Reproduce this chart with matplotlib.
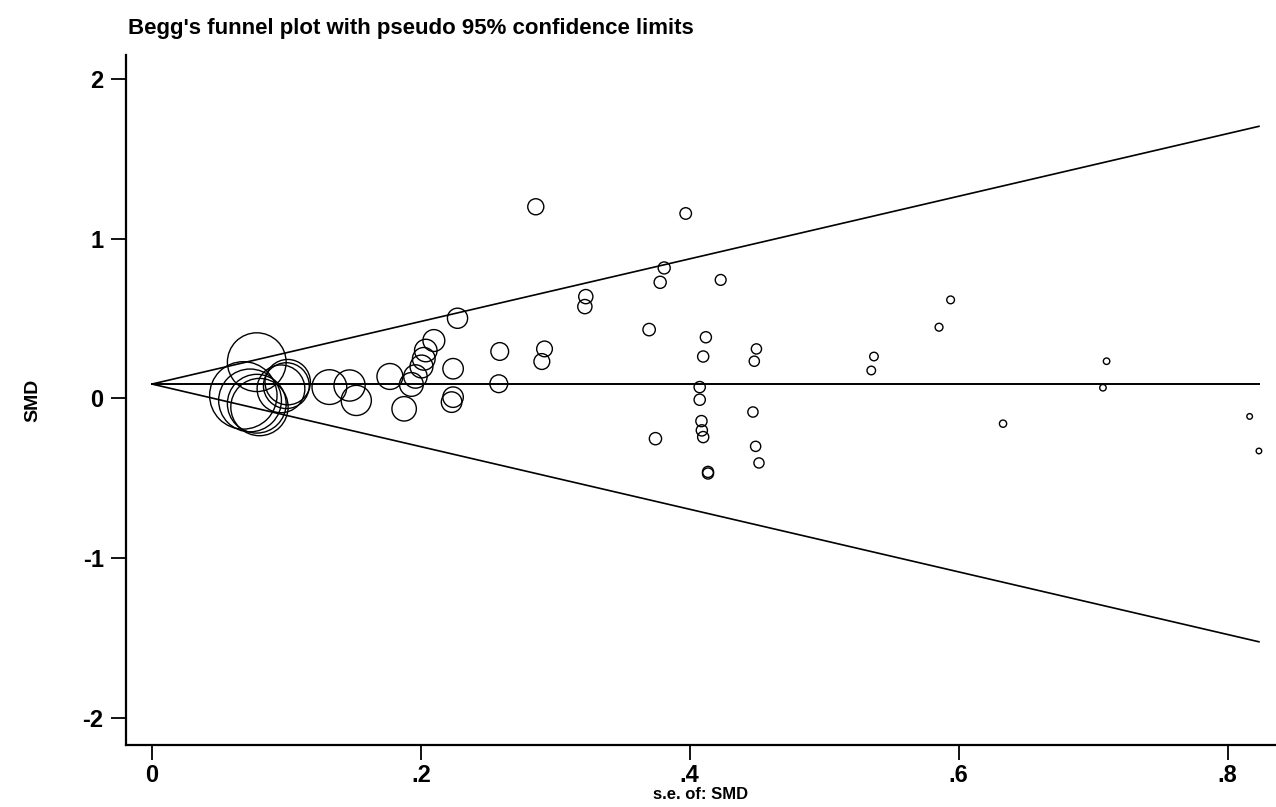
import matplotlib
matplotlib.use('Agg')
import matplotlib.pyplot as plt
import numpy as np

# datos: error estandar y SMD de cada estudio
se = [0.078, 0.068, 0.073, 0.078, 0.080, 0.101, 0.100, 0.096,
      0.132, 0.147, 0.152, 0.177, 0.1876,
      0.193, 0.196, 0.2005, 0.2022, 0.2037, 0.2097, 0.2273,
      0.224, 0.224, 0.2229,
      0.2587, 0.258,
      0.2855, 0.292, 0.290,
      0.322, 0.3227,
      0.3698, 0.3745, 0.378, 0.381, 0.397,
      0.4074, 0.4074, 0.4087, 0.409, 0.410, 0.410, 0.412, 0.4136, 0.4136,
      0.423, 0.447, 0.448, 0.4496, 0.449, 0.4515,
      0.535, 0.537, 0.5854, 0.594, 0.633,
      0.7073, 0.710, 0.8164, 0.8233]
smd = [0.227, 0.019, -0.0125, -0.033, -0.054, 0.102, 0.08, 0.06,
       0.071, 0.081, -0.0125, 0.1375, -0.065,
       0.0875, 0.1375, 0.2, 0.248, 0.30, 0.3625, 0.502,
       0.186, 0.008, -0.023,
       0.294, 0.092,
       1.20, 0.31, 0.231,
       0.575, 0.6375,
       0.431, -0.252, 0.727, 0.817, 1.158,
       0.071, -0.008, -0.142, -0.2, -0.242, 0.2625, 0.383, -0.46, -0.47,
       0.742, -0.085, 0.233, 0.31, -0.3, -0.404,
       0.175, 0.2625, 0.446, 0.617, -0.158,
       0.067, 0.233, -0.1125, -0.329]
pooled = 0.09  # estimacion combinada (linea central)
x_ticks = [0, 0.2, 0.4, 0.6, 0.8]
x_labels = ['0', '.2', '.4', '.6', '.8']
y_ticks = [-2, -1, 0, 1, 2]
y_labels = ['-2', '-1', '0', '1', '2']

plt.rcParams['font.family'] = ['Liberation Sans', 'DejaVu Sans']
plt.rcParams['font.weight'] = 'bold'

fig = plt.figure(figsize=(12.76, 8.07), dpi=100)
ax = fig.add_axes([0.0987, 0.0768, 0.9013, 0.855])

se_arr = np.array(se)
# tamano del simbolo proporcional al peso (1/se^2)
sizes = (3.3 / se_arr) ** 2
ax.scatter(se, smd, s=sizes, facecolors='none', edgecolors='black', linewidths=1.0, zorder=3)

# limites pseudo 95%
se_max = se_arr.max()
xs = np.array([0, se_max])
ax.plot(xs, [pooled, pooled], color='black', lw=1.4)
ax.plot(xs, pooled + 1.96 * xs, color='black', lw=1.2)
ax.plot(xs, pooled - 1.96 * xs, color='black', lw=1.2)

ax.set_xlim(-0.0193, 0.836)
ax.set_ylim(-2.17, 2.15)
ax.set_xticks(x_ticks)
ax.set_xticklabels(x_labels)
ax.set_yticks(y_ticks)
ax.set_yticklabels(y_labels)
ax.tick_params(axis='both', direction='out', length=11, width=1.3, labelsize=17, pad=5)
ax.tick_params(axis='x', pad=3)
for lab in ax.get_xticklabels() + ax.get_yticklabels():
    lab.set_fontweight('heavy')

ax.spines['top'].set_visible(False)
ax.spines['right'].set_visible(False)
ax.spines['left'].set_linewidth(1.6)
ax.spines['bottom'].set_linewidth(1.6)

ax.set_ylabel('SMD', fontsize=14, fontweight='bold', labelpad=30)
ax.set_xlabel('s.e. of: SMD', fontsize=12, fontweight='bold', labelpad=0)
fig.text(0.1, 0.965, "Begg's funnel plot with pseudo 95% confidence limits",
         fontsize=16, fontweight='bold', va='center', ha='left')

fig.savefig('out.png', dpi=100)
